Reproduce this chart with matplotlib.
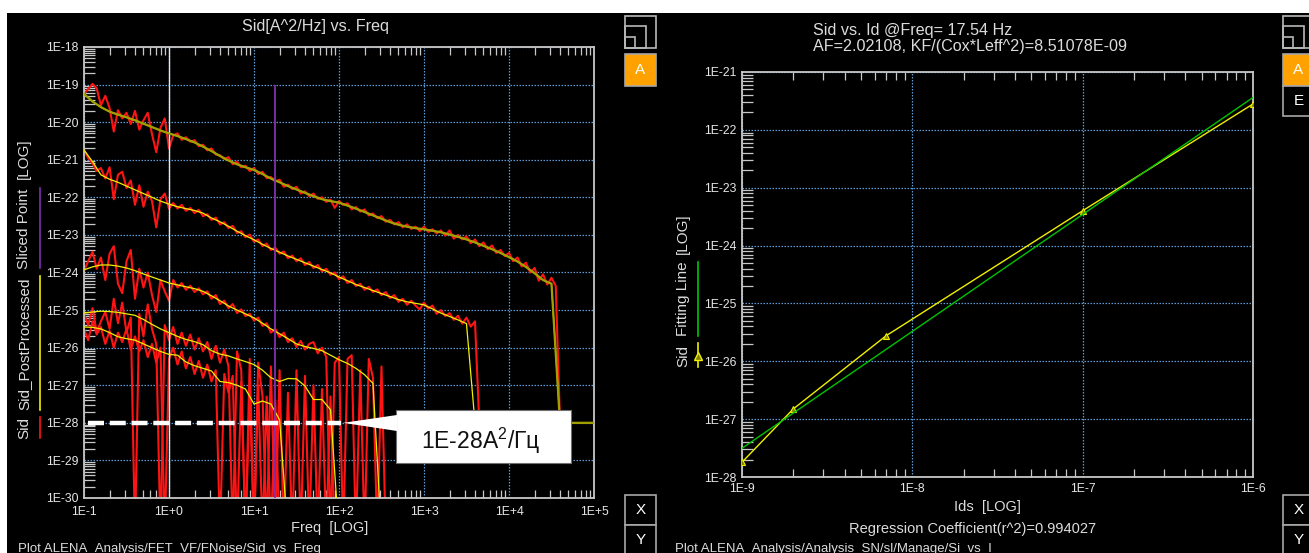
# Flicker noise: Sid spectra for each bias point, and Sid vs Id at the slice frequency
import numpy as np
import matplotlib.pyplot as plt
from matplotlib.patches import Rectangle, Polygon
from matplotlib.lines import Line2D
from matplotlib.ticker import LogLocator, NullFormatter, FuncFormatter

plt.rcParams['font.family'] = ['Liberation Sans', 'DejaVu Sans']
plt.rcParams['mathtext.fontset'] = 'custom'
plt.rcParams['mathtext.rm'] = 'Liberation Sans'
plt.rcParams['mathtext.default'] = 'regular'

W, H = 1309, 553

# %% frequency grid (20 points per decade, raw data; every other point for the smoothed data)
FREQ_MANTISSA = [1.00, 1.12, 1.26, 1.41, 1.58, 1.78, 2.00, 2.24, 2.51, 2.82,
                 3.16, 3.55, 3.98, 4.47, 5.01, 5.62, 6.31, 7.08, 7.94, 8.91]
FREQ_DECADES = [0.1, 1, 10, 100, 1e3, 1e4, 1e5]

# %% log10(Sid) raw spectra, one list per bias point
SID1_RAW = [-19.25, -19.12, -18.98, -19.1, -19.55, -19.3, -19.62, -20.25, -19.68, -19.9,
            -19.75, -20.05, -19.7, -20.2, -19.95, -19.75, -20.32, -20.8, -20.15, -19.9,
            -20.7, -20.35, -20.3, -20.47, -20.4, -20.52, -20.48, -20.64, -20.6, -20.75,
            -20.7, -20.86, -20.88, -20.98, -20.93, -21.12, -21.05, -21.2, -21.16, -21.3,
            -21.22, -21.38, -21.32, -21.49, -21.46, -21.58, -21.53, -21.72, -21.66, -21.78,
            -21.72, -21.9, -21.84, -21.97, -21.9, -22.04, -22.0, -22.12, -22.06, -22.28,
            -22.1, -22.2, -22.16, -22.32, -22.26, -22.38, -22.32, -22.48, -22.43, -22.55,
            -22.5, -22.65, -22.6, -22.72, -22.66, -22.8, -22.72, -22.84, -22.78, -22.9,
            -22.78, -22.92, -22.85, -22.96, -22.88, -23.02, -22.88, -23.1, -23.0, -23.12,
            -23.04, -23.22, -23.12, -23.3, -23.2, -23.38, -23.28, -23.48, -23.4, -23.56,
            -23.48, -23.7, -23.6, -23.84, -23.74, -24.0, -23.88, -24.22, -24.05, -24.32,
            -24.14, -24.36, -28.0]
SID2_RAW = [-20.74, -20.95, -21.1, -21.3, -21.22, -21.5, -21.2, -22.05, -21.4, -21.32,
            -21.75, -21.55, -22.2, -21.68, -22.25, -21.85, -22.1, -22.8, -22.05, -21.9,
            -22.3, -22.15, -22.3, -22.2, -22.36, -22.28, -22.42, -22.33, -22.5, -22.45,
            -22.6, -22.54, -22.72, -22.66, -22.82, -22.76, -22.95, -22.9, -23.06, -22.99,
            -23.18, -23.12, -23.3, -23.23, -23.4, -23.34, -23.5, -23.44, -23.62, -23.55,
            -23.7, -23.62, -23.8, -23.72, -23.88, -23.8, -23.97, -23.9, -24.06, -24.0,
            -24.18, -24.1, -24.28, -24.2, -24.36, -24.3, -24.46, -24.38, -24.52, -24.45,
            -24.6, -24.52, -24.68, -24.6, -24.78, -24.7, -24.86, -24.75, -24.88, -24.98,
            -24.8, -24.96, -24.88, -25.1, -25.0, -25.16, -25.08, -25.26, -25.15, -25.36,
            -25.2, -25.44, -25.3, -28.0]
SID3_RAW = [-23.95, -23.7, -23.45, -23.9, -23.6, -24.2, -23.5, -23.3, -24.3, -24.55,
            -23.7, -23.4, -24.7, -23.9, -24.4, -24.0, -24.6, -25.05, -24.2, -24.5,
            -24.75, -24.2, -24.4, -24.28, -24.46, -24.35, -24.52, -24.42, -24.58, -24.5,
            -24.7, -24.6, -24.84, -24.75, -24.95, -24.84, -25.08, -24.98, -25.16, -25.1,
            -25.28, -25.2, -25.42, -25.35, -25.6, -25.5, -25.72, -25.6, -25.85, -25.75,
            -25.98, -25.82, -26.05, -25.9, -25.85, -26.15, -26.0, -26.25, -31.0, -26.4,
            -26.25, -31.0, -26.3, -26.2, -31.0, -26.6, -31.0, -26.3, -26.8, -31.0,
            -26.5, -31.0]
SID4_RAW = [-25.1, -25.4, -24.95, -25.6, -25.3, -25.05, -25.5, -24.7, -25.35, -24.8,
            -25.6, -25.2, -31.0, -25.1, -25.7, -24.85, -25.5, -25.9, -31.0, -25.4,
            -25.8, -25.45, -25.9, -25.6, -25.95, -25.65, -26.05, -25.75, -26.1, -25.85,
            -26.3, -25.95, -26.4, -26.05, -26.5, -31.0, -26.1, -26.6, -31.0, -26.3,
            -31.0, -26.4, -27.3, -31.0, -26.5, -31.0, -26.6, -31.0, -27.2, -31.0,
            -26.6, -31.0, -26.75, -31.0, -27.0, -31.0, -27.1, -31.0, -27.3, -31.0]
SID5_RAW = [-25.5, -25.8, -25.3, -25.65, -25.45, -25.9, -25.55, -26.0, -25.6, -25.85,
            -25.5, -26.05, -25.7, -26.1, -25.8, -26.25, -25.9, -26.4, -26.0, -31.0,
            -26.3, -26.0, -26.45, -26.1, -26.55, -26.25, -26.7, -26.35, -26.8, -26.45,
            -26.9, -26.6, -31.0, -26.7, -27.2, -26.75, -31.0, -26.9, -31.0, -27.1,
            -31.0, -27.0, -31.0, -27.3, -31.0, -27.4, -31.0]

# %% log10(Sid) after post-processing (smoothed)
SID1_SMOOTH = [-19.25, -19.45, -19.6, -19.72, -19.8, -19.87, -19.95, -20.04, -20.13, -20.22,
               -20.3, -20.37, -20.45, -20.54, -20.65, -20.77, -20.9, -21.02, -21.12, -21.2,
               -21.27, -21.38, -21.5, -21.6, -21.7, -21.79, -21.88, -21.97, -22.05, -22.1,
               -22.14, -22.22, -22.3, -22.39, -22.48, -22.57, -22.66, -22.73, -22.78, -22.82,
               -22.85, -22.89, -22.93, -22.99, -23.05, -23.12, -23.2, -23.29, -23.38, -23.48,
               -23.59, -23.71, -23.85, -24.02, -24.2, -24.3, -28.0, -28.0, -28.0, -28.0,
               -28.0, -28.0]
SID2_SMOOTH = [-20.74, -21.05, -21.4, -21.52, -21.6, -21.7, -21.8, -21.9, -22.0, -22.1,
               -22.18, -22.25, -22.3, -22.35, -22.42, -22.55, -22.65, -22.77, -22.9, -23.02,
               -23.13, -23.25, -23.36, -23.46, -23.56, -23.65, -23.74, -23.83, -23.92, -24.01,
               -24.12, -24.22, -24.32, -24.4, -24.48, -24.56, -24.64, -24.72, -24.78, -24.82,
               -24.86, -24.97, -25.08, -25.17, -25.26, -25.36, -28.0, -28.0]
SID3_SMOOTH = [-23.93, -23.85, -23.8, -23.8, -23.83, -23.88, -23.95, -24.04, -24.12, -24.2,
               -24.28, -24.33, -24.38, -24.43, -24.5, -24.62, -24.75, -24.89, -25.0, -25.1,
               -25.21, -25.35, -25.5, -25.63, -25.76, -25.9, -25.97, -26.02, -26.08, -26.2,
               -26.32, -26.42, -26.55, -26.72, -26.95, -31.0]
SID4_SMOOTH = [-25.08, -25.05, -25.03, -25.04, -25.06, -25.1, -25.14, -25.25, -25.38, -25.5,
               -25.6, -25.7, -25.78, -25.84, -25.92, -26.08, -26.17, -26.22, -26.3, -26.37,
               -26.45, -26.6, -26.8, -26.9, -26.82, -26.83, -27.02, -27.38, -27.38, -27.65,
               -31.0]
SID5_SMOOTH = [-25.45, -25.46, -25.5, -25.6, -25.71, -25.76, -25.8, -25.9, -26.0, -26.1,
               -26.18, -26.2, -26.38, -26.48, -26.55, -26.62, -26.9, -26.93, -27.0, -27.1,
               -27.5, -27.42, -27.5, -27.92, -31.0]

FREQ_SLICE = 17.54          # Hz, sliced point
NOISE_FLOOR = 1e-28         # A^2/Hz
FLOOR_SPAN = (0.11, 105)    # Hz, extent of the floor marker
FLOOR_TIP = 112             # Hz, callout pointer

# %% Sid at the slice frequency vs drain current, and the fit
IDS = [1e-9, 2e-9, 7e-9, 1e-7, 1e-6]
SID_AT_SLICE = [1.8e-28, 1.5e-27, 2.75e-26, 4.0e-24, 2.8e-22]
AF = 2.02108
KF_NORM = 8.51078e-9        # KF/(Cox*Leff^2)
R2 = 0.994027

# %% colours
RED = '#ff1414'
YELLOW = '#f0f000'
OLIVE = '#a0a000'
GREEN = '#00c400'
PURPLE = '#8030b0'
GRID = '#5b9bd5'
TXT = '#dcdcdc'
SPINE = '#c8c8c8'

freq_fine = np.outer(FREQ_DECADES, FREQ_MANTISSA).ravel()
freq_coarse = freq_fine[::2]


def fx(px):
    return px / W


def fy(py):
    return 1 - py / H


def decade_label(v, pos):
    e = int(round(np.log10(v)))
    return f"1E{e:+d}" if e >= 0 else f"1E{e}"


def style_axes(ax):
    ax.set_facecolor('black')
    ax.set_xscale('log')
    ax.set_yscale('log')
    for s in ax.spines.values():
        s.set_color(SPINE)
        s.set_linewidth(1.3)
    for axis in (ax.xaxis, ax.yaxis):
        axis.set_major_locator(LogLocator(base=10, numticks=20))
        axis.set_minor_locator(LogLocator(base=10, subs=np.arange(2, 10), numticks=20))
        axis.set_minor_formatter(NullFormatter())
        axis.set_major_formatter(FuncFormatter(decade_label))
    ax.tick_params(which='major', length=0, labelsize=8.8, labelcolor='#e6e6e6')
    ax.tick_params(axis='x', which='major', pad=6)
    ax.tick_params(axis='y', which='major', pad=4)
    ax.tick_params(axis='x', which='minor', direction='in', length=6, width=0.9,
                   color=SPINE, top=True, bottom=True)
    ax.tick_params(axis='y', which='minor', direction='in', length=8, width=0.9,
                   color=SPINE, left=True, right=False)
    ax.grid(which='major', color=GRID, linestyle=(0, (1.2, 1.2)), linewidth=0.9)
    ax.set_axisbelow(True)


fig = plt.figure(figsize=(W / 100, H / 100), dpi=100)
fig.patch.set_facecolor('white')
fig.add_artist(Rectangle((fx(7), 0), 1 - fx(7), fy(13), transform=fig.transFigure,
                         facecolor='black', edgecolor='none', zorder=-10))

# %% left: Sid vs Freq
ax1 = fig.add_axes([fx(84), fy(498), fx(510), 451 / H])
style_axes(ax1)
ax1.set_xlim(0.1, 1e5)
ax1.set_ylim(1e-30, 1e-18)

raw_sets = [SID1_RAW, SID2_RAW, SID3_RAW, SID4_RAW, SID5_RAW]
smooth_sets = [SID1_SMOOTH, SID2_SMOOTH, SID3_SMOOTH, SID4_SMOOTH, SID5_SMOOTH]
for vals in raw_sets:
    v = np.array(vals)
    ax1.plot(freq_fine[:len(v)], 10.0 ** v, color=RED, lw=1.5, zorder=2)
ax1.axvline(1.0, color='#e8e8e8', lw=1.0, zorder=2.5)
for vals in smooth_sets:
    v = np.array(vals)
    ax1.plot(freq_coarse[:len(v)], 10.0 ** v, color=YELLOW, lw=0.9, zorder=3)
tail = np.array(SID1_SMOOTH)
flat = np.isclose(10.0 ** tail, NOISE_FLOOR)
ax1.plot(freq_coarse[:len(tail)][flat], 10.0 ** tail[flat], color=OLIVE, lw=1.6, zorder=3.2)

ax1.vlines(FREQ_SLICE, 1e-30, 1e-19, color=PURPLE, lw=1.3, zorder=4)
ax1.plot(FLOOR_SPAN, [NOISE_FLOOR, NOISE_FLOOR], color='white', lw=3.2,
         dashes=(3.6, 1.3), solid_capstyle='butt', zorder=5)

fig.text(fx(315), fy(26), 'Sid[A^2/Hz] vs. Freq', ha='center', va='center',
         fontsize=11.6, color=TXT)
fig.text(fx(330), fy(528), 'Freq  [LOG]', ha='center', va='center', fontsize=10.5, color=TXT)
fig.text(fx(18), fy(543), 'Plot ALENA_Analysis/FET_VF/FNoise/Sid_vs_Freq', ha='left',
         va='top', fontsize=9.5, color=TXT)

# vertical legend title of the left chart
for label, yc in [('Sid', 428), ('Sid_PostProcessed', 344), ('Sliced Point', 229), ('[LOG]', 159)]:
    fig.text(fx(24), fy(yc), label, rotation=90, ha='center', va='center',
             fontsize=11, color=TXT)
for col, (y0, y1) in [(RED, (417, 438)), (YELLOW, (276, 410)), (PURPLE, (188, 268))]:
    fig.add_artist(Line2D([fx(40), fx(40)], [fy(y0), fy(y1)], color=col, lw=1.2,
                          transform=fig.transFigure))

# callout for the noise floor
box = Rectangle((fx(396), fy(463)), fx(175), 53 / H, transform=fig.transFigure,
                facecolor='white', edgecolor='#707070', lw=0.8, zorder=10)
fig.add_artist(box)
fig.canvas.draw()
tip = fig.transFigure.inverted().transform(ax1.transData.transform((FLOOR_TIP, NOISE_FLOOR)))
pointer = Polygon([tip, (fx(397), fy(415)), (fx(397), fy(431))], closed=True,
                  transform=fig.transFigure, facecolor='white', edgecolor='none', zorder=11)
fig.add_artist(pointer)
fig.text(fx(481), fy(441), f"{NOISE_FLOOR:.0E}" + 'A$^{2}$/Гц',
         ha='center', va='center', fontsize=16.5, color='#111111', zorder=12)

# %% right: Sid vs Id at the slice frequency
ax2 = fig.add_axes([fx(742), fy(477), fx(511), 405 / H])
style_axes(ax2)
ax2.set_xlim(1e-9, 1e-6)
ax2.set_ylim(1e-28, 1e-21)
ax2.tick_params(axis='x', which='major', pad=4)
ax2.tick_params(axis='y', which='major', pad=4)

ax2.plot(IDS, SID_AT_SLICE, color=YELLOW, lw=1.0, marker='^', ms=5,
         mfc='#808000', mec=YELLOW, mew=0.8, zorder=3)
ids_fit = np.array(ax2.get_xlim())
ax2.plot(ids_fit, KF_NORM * ids_fit ** AF / FREQ_SLICE, color=GREEN, lw=1.0, zorder=4)

fig.text(fx(813), fy(30), f'Sid vs. Id @Freq= {FREQ_SLICE} Hz', ha='left', va='center',
         fontsize=11.6, color=TXT)
fig.text(fx(813), fy(46), f'AF={AF}, KF/(Cox*Leff^2)={KF_NORM:.5E}', ha='left', va='center',
         fontsize=11.6, color=TXT)
fig.text(fx(987), fy(507), 'Ids  [LOG]', ha='center', va='center', fontsize=10.5, color=TXT)
fig.text(fx(973), fy(529), f'Regression Coefficient(r^2)={R2}', ha='center', va='center',
         fontsize=10.5, color=TXT)
fig.text(fx(675), fy(543), 'Plot ALENA_Analysis/Analysis_SN/sl/Manage/Si_vs_I', ha='left',
         va='top', fontsize=9.5, color=TXT)

for label, yc in [('Sid', 356), ('Fitting Line', 299), ('[LOG]', 234)]:
    fig.text(fx(683), fy(yc), label, rotation=90, ha='center', va='center',
             fontsize=11, color=TXT)
fig.add_artist(Line2D([fx(698)] * 3, [fy(343), fy(356), fy(367)], color=YELLOW, lw=1.2,
                      marker='^', markevery=[1], ms=6, mfc='#808000', mec=YELLOW,
                      transform=fig.transFigure))
fig.add_artist(Line2D([fx(698), fx(698)], [fy(262), fy(336)], color=GREEN, lw=1.2,
                      transform=fig.transFigure))


# %% panel buttons
def button(x0, y0, x1, y1, label=None, face='black'):
    fig.add_artist(Rectangle((fx(x0), fy(y1)), fx(x1 - x0), (y1 - y0) / H,
                             transform=fig.transFigure, facecolor=face,
                             edgecolor='#a8a8a8', lw=1.2))
    if label:
        fig.text(fx((x0 + x1) / 2), fy((y0 + y1) / 2), label, ha='center', va='center',
                 fontsize=11, color='white')


def layout_icon(x0):
    for (a, b, c, d) in [(x0, 16, x0 + 31, 48), (x0, 26, x0 + 21, 48), (x0, 37, x0 + 10, 48)]:
        fig.add_artist(Rectangle((fx(a), fy(d)), fx(c - a), (d - b) / H,
                                 transform=fig.transFigure, facecolor='none',
                                 edgecolor='#b8b8b8', lw=1.2))


for x0, extra in [(625, False), (1283, True)]:
    layout_icon(x0)
    button(x0, 54, x0 + 31, 86, 'A', face='#ffa200')
    if extra:
        button(x0, 86, x0 + 31, 116, 'E')
    button(x0, 495, x0 + 31, 525, 'X')
    button(x0, 525, x0 + 31, 556, 'Y')

fig.savefig('out.png', dpi=100, facecolor=fig.get_facecolor())
